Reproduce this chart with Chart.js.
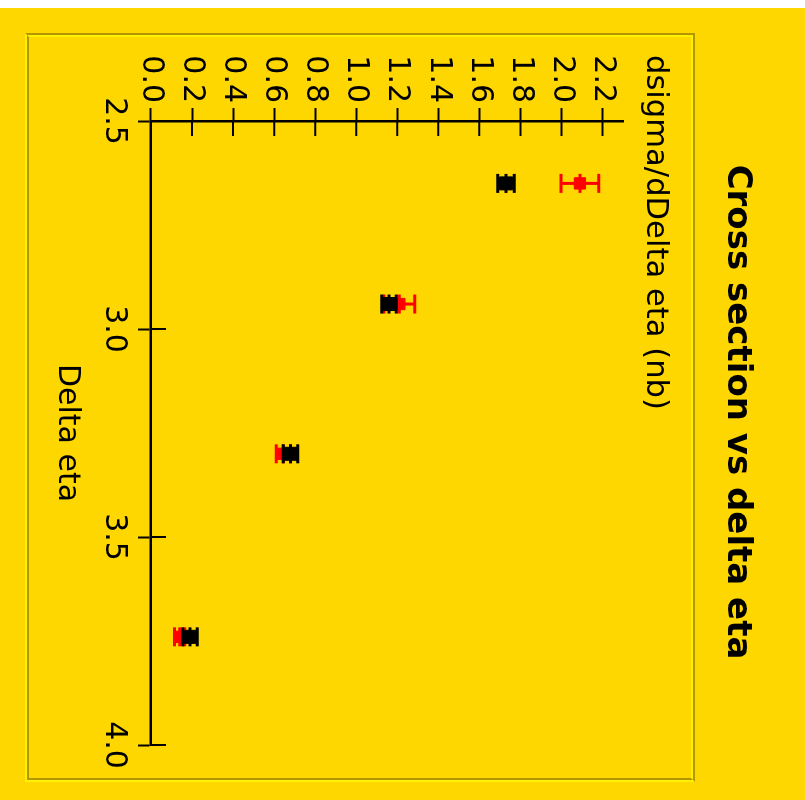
<!DOCTYPE html>
<html>
<head>
<meta charset="utf-8">
<script src="https://cdn.jsdelivr.net/npm/chart.js@4/dist/chart.umd.min.js"></script>
<style>
  html, body { margin: 0; background: #fff; overflow: hidden; }
  /* the chart is drawn upright, then turned a quarter turn clockwise */
  #wrap {
    position: absolute; left: 0; top: 8px;
    width: 792px; height: 805px;
    background: #ffd700;
    transform-origin: 0 0;
    transform: translate(805px, 0) rotate(90deg);
  }
  .frame {
    position: absolute; left: 25px; top: 110px;
    width: 749px; height: 670px; box-sizing: border-box;
    border: 2px solid; border-color: #b39600 #fff200 #fff200 #b39600;
  }
  .frame div {
    width: 100%; height: 100%; box-sizing: border-box;
    border: 2px solid; border-color: #fff200 #b39600 #b39600 #fff200;
  }
  #chart { position: absolute; left: 0; top: 0; }
</style>
</head>
<body>
<div id="wrap">
  <div class="frame"><div></div></div>
  <canvas id="chart" width="792" height="805"></canvas>
</div>
<script>
// Data
const chartTitle = "Cross section vs delta eta";
const yTitle = "dsigma/dDelta eta (nb)";
const xTitle = "Delta eta";

const etaValues = [2.65, 2.94, 3.3, 3.74];
const sigmaRed = [2.09, 1.21, 0.645, 0.14];
const errRed = [0.092, 0.075, 0.035, 0.025];
const sigmaBlack = [1.73, 1.16, 0.68, 0.19];
const errBlack = [0.04, 0.035, 0.035, 0.035];

const xTicks = [2.5, 3.0, 3.5, 4.0];
const yTicks = [0.0, 0.2, 0.4, 0.6, 0.8, 1.0, 1.2, 1.4, 1.6, 1.8, 2.0, 2.2];

Chart.defaults.font.family = '"DejaVu Sans", sans-serif';
Chart.defaults.color = "#000";

// error bars, drawn just before each dataset's markers
const errorBars = {
  id: "errorBars",
  beforeDatasetDraw(chart, args) {
    const ds = chart.data.datasets[args.index];
    const { ctx, scales: { x, y } } = chart;
    const cap = 9.5;
    ctx.save();
    ctx.strokeStyle = ds.borderColor;
    ctx.lineWidth = 3;
    ds.data.forEach((p, i) => {
      const px = x.getPixelForValue(p.x);
      const lo = y.getPixelForValue(p.y - ds.errors[i]);
      const hi = y.getPixelForValue(p.y + ds.errors[i]);
      const mid = y.getPixelForValue(p.y);
      ctx.beginPath();
      ctx.moveTo(px, lo);
      ctx.lineTo(px, hi);
      [lo, mid, hi].forEach((py) => {
        ctx.moveTo(px - cap, py);
        ctx.lineTo(px + cap, py);
      });
      ctx.stroke();
    });
    ctx.restore();
  },
};

// inner half of the tick marks (they cross the axes) + title and y caption
const axisExtras = {
  id: "axisExtras",
  afterDraw(chart) {
    const { ctx, chartArea, scales: { x, y } } = chart;
    ctx.save();
    ctx.strokeStyle = "#000";
    ctx.lineWidth = 2;
    ctx.beginPath();
    x.ticks.forEach((t) => {
      const px = x.getPixelForValue(t.value);
      ctx.moveTo(px, chartArea.bottom);
      ctx.lineTo(px, chartArea.bottom - 15);
    });
    y.ticks.forEach((t) => {
      const py = y.getPixelForValue(t.value);
      ctx.moveTo(chartArea.left, py);
      ctx.lineTo(chartArea.left + 15, py);
    });
    ctx.stroke();

    ctx.fillStyle = "#000";
    ctx.textBaseline = "alphabetic";
    ctx.font = 'bold 34px "DejaVu Sans"';
    ctx.textAlign = "center";
    ctx.fillText(chartTitle, 404, 77);
    ctx.font = '30.6px "DejaVu Sans"';
    ctx.textAlign = "left";
    ctx.fillText(yTitle, 47, 158);
    ctx.restore();
  },
};

const ctx = document.getElementById("chart").getContext("2d");
const chart = new Chart(ctx, {
  type: "scatter",
  data: {
    datasets: [
      {
        label: "black",
        data: etaValues.map((e, i) => ({ x: e, y: sigmaBlack[i] })),
        errors: errBlack,
        pointStyle: "rect",
        pointRadius: 9.2,
        backgroundColor: "#000",
        borderColor: "#000",
        borderWidth: 1,
      },
      {
        label: "red",
        data: etaValues.map((e, i) => ({ x: e, y: sigmaRed[i] })),
        errors: errRed,
        pointStyle: "rect",
        pointRadius: 8,
        backgroundColor: "#ff0000",
        borderColor: "#ff0000",
        borderWidth: 1,
      },
    ],
  },
  options: {
    responsive: false,
    animation: false,
    events: [],
    layout: { padding: { left: 0, right: 55, top: 182, bottom: 0 } },
    plugins: {
      legend: { display: false },
      title: { display: false },
      tooltip: { enabled: false },
    },
    scales: {
      x: {
        type: "linear",
        min: 2.5,
        max: 4.0,
        afterBuildTicks: (axis) => {
          axis.ticks = xTicks.map((v) => ({ value: v }));
        },
        afterFit: (axis) => {
          axis.height = 151;
        },
        border: { display: true, color: "#000", width: 2.5 },
        grid: { drawOnChartArea: false, tickLength: 13, tickColor: "#000", tickWidth: 2 },
        ticks: {
          autoSkip: false,
          maxRotation: 0,
          padding: 6,
          font: { size: 30 },
          callback: (v) => v.toFixed(1),
        },
        title: {
          display: true,
          text: xTitle,
          font: { size: 30 },
          padding: { top: 0, bottom: 49 },
        },
      },
      y: {
        type: "linear",
        min: 0,
        max: 2.3,
        afterBuildTicks: (axis) => {
          axis.ticks = yTicks.map((v) => ({ value: v }));
        },
        afterFit: (axis) => {
          axis.width = 113;
        },
        border: { display: true, color: "#000", width: 2.5 },
        grid: { drawOnChartArea: false, tickLength: 13, tickColor: "#000", tickWidth: 2 },
        ticks: {
          autoSkip: false,
          padding: 5,
          font: { size: 30 },
          callback: (v) => v.toFixed(1),
        },
      },
    },
  },
  plugins: [errorBars, axisExtras],
});
</script>
</body>
</html>
